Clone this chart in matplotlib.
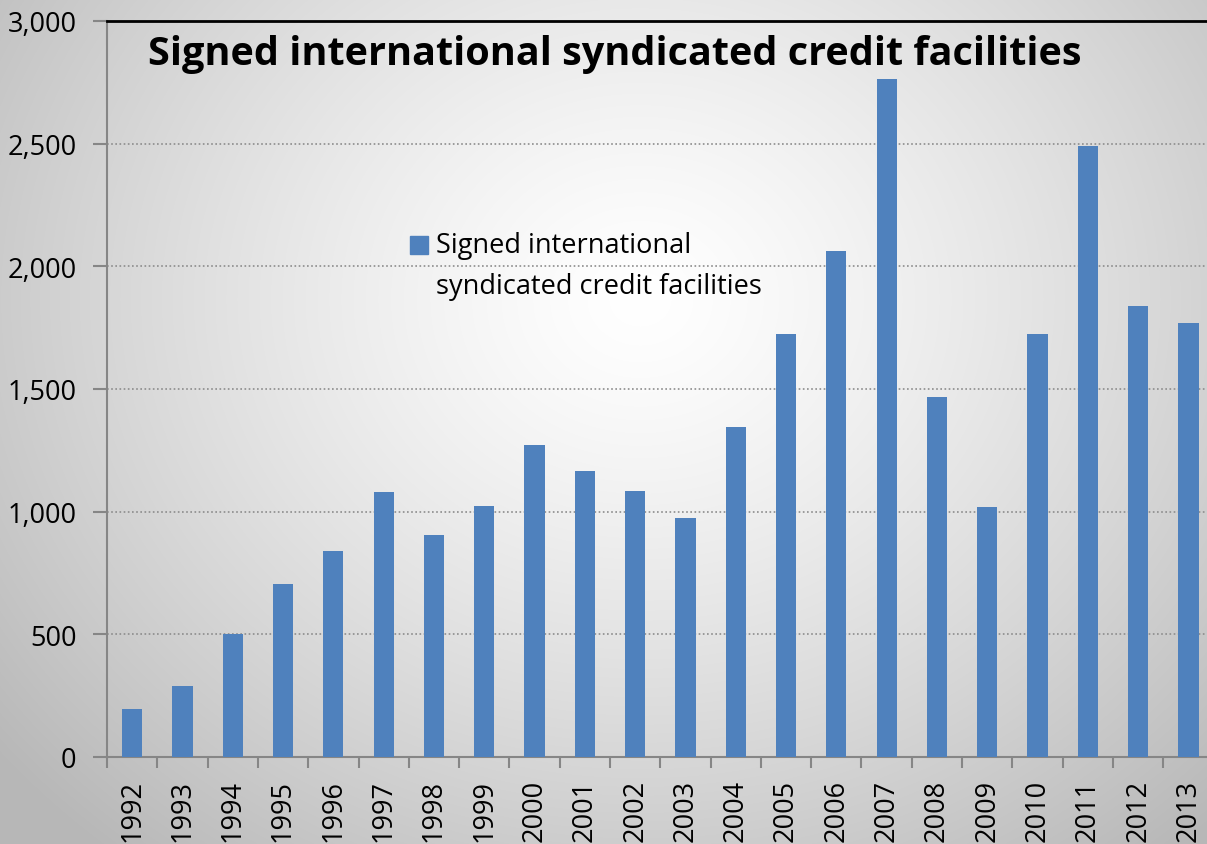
import numpy as np
import matplotlib
matplotlib.use("Agg")
import matplotlib.pyplot as plt
from matplotlib.patches import Rectangle
from matplotlib.ticker import FuncFormatter, FixedLocator

years = [str(y) for y in range(1992, 2014)]
values = [195, 290, 500, 705, 840, 1080, 905, 1023, 1272, 1166, 1084, 974,
          1345, 1724, 2063, 2764, 1468, 1019, 1724, 2491, 1839, 1769]
title = "Signed international syndicated credit facilities"
legend_lines = ["Signed international", "syndicated credit facilities"]
bar_color = "#4F81BD"

plt.rcParams['font.family'] = ['Open Sans', 'DejaVu Sans']

W, H = 1207, 845
fig = plt.figure(figsize=(W / 100, H / 100), dpi=100)

# radial gradient background
bg = fig.add_axes([0, 0, 1, 1], zorder=-10)
yy, xx = np.mgrid[0:H, 0:W]
cx, cy = 640, 300
r = np.sqrt(((xx - cx) / 1.15) ** 2 + (yy - cy) ** 2)
rn = np.clip(r / 720, 0, 1)
g = 1.0 - 0.28 * rn ** 1.3
img = np.dstack([g, g, g])
bg.imshow(img, extent=[0, 1, 0, 1], aspect='auto', interpolation='bilinear')
bg.set_axis_off()

left = 107 / W
bottom = (H - 758) / H
cat_w = 50.3
width = 22 * cat_w / W
height = (758 - 22) / H
ax = fig.add_axes([left, bottom, width, height])
ax.set_facecolor('none')

x = np.arange(len(years))
ax.bar(x, values, width=0.4, color=bar_color, zorder=3)
ax.set_xlim(-0.5, len(years) - 0.5)
ax.set_ylim(0, 3000)

ax.set_yticks(np.arange(0, 3001, 500))
ax.yaxis.set_major_formatter(FuncFormatter(lambda v, p: f"{int(v):,}"))
ax.set_xticks(x)
ax.set_xticklabels(years, rotation=90, fontsize=19.5)
ax.xaxis.set_minor_locator(FixedLocator(np.arange(-0.5, len(years), 1.0)))
ax.tick_params(axis='x', which='major', length=0, pad=16)
ax.tick_params(axis='x', which='minor', length=8, color='#868686', width=1.5, direction='out')
ax.tick_params(axis='y', which='major', length=10, color='#868686', width=1.5,
               labelsize=19.5, pad=12)

ax.grid(axis='y', linestyle=(0, (1, 1.5)), color='#8c8c8c', linewidth=1.2, zorder=0)
ax.spines['right'].set_visible(False)
ax.spines['left'].set_color('#868686')
ax.spines['left'].set_linewidth(1.5)
ax.spines['bottom'].set_color('#868686')
ax.spines['bottom'].set_linewidth(1.5)
ax.spines['top'].set_color('black')
ax.spines['top'].set_linewidth(2)

fig.text(148 / W, 1 - 55 / H, title, fontsize=28.5, fontweight='bold',
         ha='left', va='center')

# legend
fig.patches.append(Rectangle((410 / W, 1 - 255 / H), 18 / W, 18 / H,
                             transform=fig.transFigure, color=bar_color))
fig.text(436 / W, 1 - 246 / H, legend_lines[0], fontsize=19.5,
         ha='left', va='center')
fig.text(436 / W, 1 - 287 / H, legend_lines[1], fontsize=19.5,
         ha='left', va='center')

fig.savefig("out.png", dpi=100)
